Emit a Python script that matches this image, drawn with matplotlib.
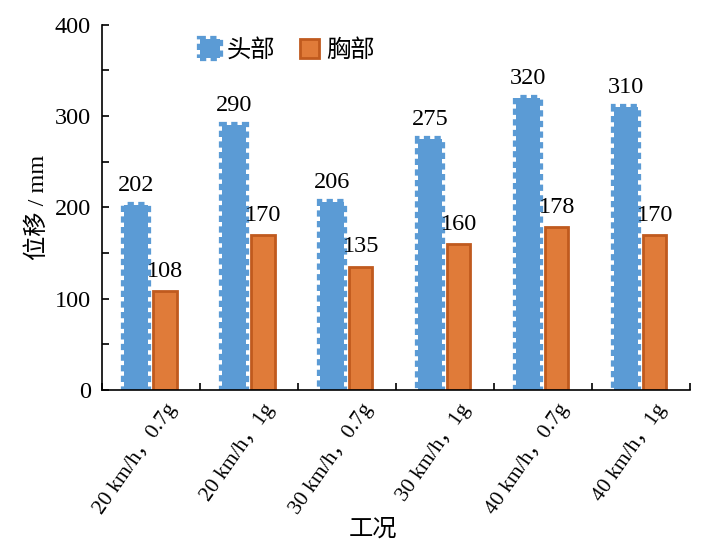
import matplotlib.pyplot as plt
import numpy as np

plt.rcParams['font.family'] = ['Liberation Serif', 'Noto Sans CJK SC']

conditions = ["20 km/h，0.7g", "20 km/h，1g", "30 km/h，0.7g",
              "30 km/h，1g", "40 km/h，0.7g", "40 km/h，1g"]
head = [202, 290, 206, 275, 320, 310]
chest = [108, 170, 135, 160, 178, 170]
series_names = ["头部", "胸部"]

blue = "#5B9BD5"
orange = "#E07B39"
orange_edge = "#C05A1E"

fig = plt.figure(figsize=(7.04, 5.49), dpi=100)
ax = fig.add_axes([0.145, 0.29, 0.835, 0.665])

x = np.arange(len(conditions))
w = 0.24
b1 = ax.bar(x - 0.155, head, w, color=blue, edgecolor=blue, linewidth=4.5,
            linestyle=(0, (1.0, 0.7)), label=series_names[0])
b2 = ax.bar(x + 0.14, chest, w, color=orange, edgecolor=orange_edge,
            linewidth=2, label=series_names[1])

for rects, vals in [(b1, head), (b2, chest)]:
    for r, v in zip(rects, vals):
        ax.text(r.get_x() + r.get_width() / 2, v + 10, str(v),
                ha="center", va="bottom", fontsize=17.5)

ax.set_xlim(-0.5, len(conditions) - 0.5)
ax.set_ylim(0, 400)
ax.set_yticks(np.arange(0, 401, 100))
ax.set_yticks(np.arange(0, 401, 50), minor=True)
ax.tick_params(axis="y", which="both", direction="in", length=5, width=1.2,
               labelsize=17.5, pad=8)
ax.set_xticks(np.arange(-0.5, len(conditions), 1.0))
ax.set_xticklabels([])
ax.set_xticks(x + 0.14, minor=True)
ax.set_xticklabels(conditions, minor=True, rotation=55, ha="right",
                   rotation_mode="anchor", fontsize=15.5)
ax.tick_params(axis="x", which="major", direction="in", length=5, width=1.2)
ax.tick_params(axis="x", which="minor", length=0, pad=8)

for s in ["top", "right"]:
    ax.spines[s].set_visible(False)
for s in ["left", "bottom"]:
    ax.spines[s].set_linewidth(1.2)

ax.set_ylabel("位移 / mm", fontsize=17.5, labelpad=4)
fig.text(0.53, 0.035, "工况", ha="center", va="center", fontsize=17.5)

ax.legend(loc="upper left", bbox_to_anchor=(0.13, 1.02), ncol=2, frameon=False,
          fontsize=17.5, handlelength=0.8, handleheight=0.8, handletextpad=0.3,
          columnspacing=1.0)

fig.savefig("out.png", dpi=100)
